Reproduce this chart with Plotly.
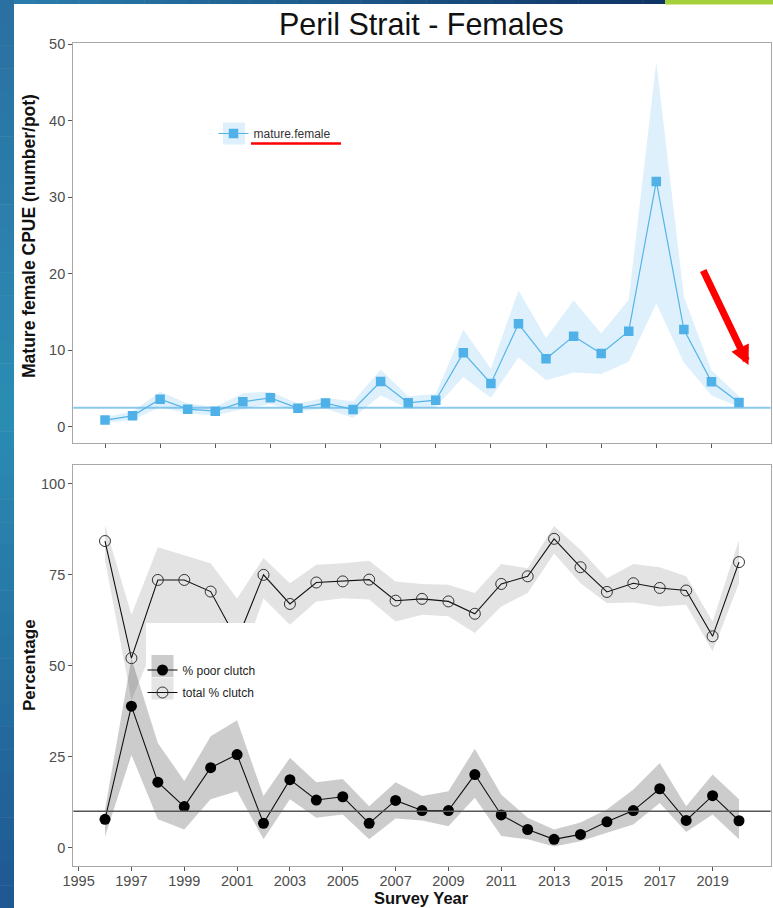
import plotly.graph_objects as go

W, H = 773, 908

# ---------------- data: top panel (mature female CPUE) ----------------
cpue_years = list(range(1997, 2021))
cpue = [0.88, 1.44, 3.62, 2.31, 2.05, 3.27, 3.79, 2.44, 3.10, 2.27, 5.93, 3.14,
        3.48, 9.67, 5.66, 13.46, 8.89, 11.85, 9.59, 12.5, 32.07, 12.72, 5.88, 3.18]
cpue_upper = [1.3, 2.0, 4.6, 3.05, 2.6, 4.4, 4.6, 3.05, 3.8, 3.3, 7.5, 4.0,
              4.3, 12.7, 7.6, 17.8, 11.6, 16.5, 12.2, 16.6, 47.7, 17.0, 7.4, 4.0]
cpue_lower = [0.5, 0.9, 2.6, 1.75, 1.5, 2.3, 3.0, 2.0, 2.4, 1.2, 4.1, 2.4,
              2.6, 6.5, 3.8, 9.1, 6.1, 7.1, 6.9, 8.5, 16.1, 8.4, 4.1, 2.6]
cpue_ref = 2.5
cpue_xticks = list(range(1997, 2020, 2))
cpue_yticks = [0, 10, 20, 30, 40, 50]

# ---------------- data: bottom panel (clutch percentages) ----------------
clutch_years = list(range(1996, 2021))
total_clutch = [84.3, 52.1, 73.6, 73.6, 70.4, 57.0, 75.0, 67.0, 72.9, 73.2, 73.7, 67.9, 68.4,
                67.7, 64.3, 72.5, 74.6, 84.9, 77.1, 70.3, 72.7, 71.4, 70.7, 58.1, 78.5]
total_upper = [88.7, 64.0, 82.6, 80.5, 78.2, 68.5, 79.6, 72.7, 77.8, 78.2, 78.9, 73.2, 72.5,
               72.3, 70.0, 78.0, 76.8, 88.4, 81.9, 74.1, 78.0, 77.1, 74.6, 62.2, 84.6]
total_lower = [79.1, 40.5, 58.0, 61.0, 58.0, 48.0, 68.5, 61.3, 67.7, 68.6, 68.2, 62.2, 64.0,
               63.6, 59.0, 66.3, 70.0, 80.9, 72.7, 67.2, 67.4, 66.3, 66.8, 54.0, 72.7]
poor_clutch = [7.8, 38.9, 18.0, 11.3, 22.0, 25.6, 6.7, 18.7, 13.1, 14.0, 6.7, 13.0, 10.2,
               10.2, 20.1, 9.0, 5.0, 2.3, 3.65, 7.1, 10.2, 16.2, 7.5, 14.3, 7.4]
poor_upper = [10.5, 52.0, 28.8, 18.3, 30.6, 35.0, 14.2, 24.7, 18.0, 18.9, 11.4, 18.0, 14.2,
              15.5, 27.2, 14.6, 8.2, 5.0, 6.9, 10.5, 16.0, 23.3, 11.4, 20.1, 13.3]
poor_lower = [3.0, 25.5, 7.8, 5.0, 13.3, 15.5, 2.3, 13.3, 8.2, 9.1, 2.3, 8.0, 7.5,
              5.9, 13.7, 3.2, 2.3, 0.3, 1.8, 4.1, 6.4, 12.3, 4.3, 9.1, 2.3]
poor_ref = 10
year_ticks = list(range(1995, 2020, 2))
pct_ticks = [0, 25, 50, 75, 100]

FONT = "Liberation Sans, Arial, Helvetica, sans-serif"
BLUE = "#56B4E9"


def px(x):
    return x / W


def py(y):
    return 1 - y / H


fig = go.Figure()

# ---- top panel ----
fig.add_trace(go.Scatter(
    x=cpue_years + cpue_years[::-1], y=cpue_upper + cpue_lower[::-1],
    fill="toself", fillcolor="rgba(86,180,233,0.2)", line=dict(width=0),
    mode="lines", showlegend=False, hoverinfo="skip", xaxis="x", yaxis="y"))
fig.add_trace(go.Scatter(
    x=cpue_years, y=cpue, name="mature.female", mode="lines+markers",
    line=dict(color=BLUE, width=1.2),
    marker=dict(symbol="square", size=9.5, color="#4fb1e7"),
    xaxis="x", yaxis="y", legend="legend"))

# ---- bottom panel ----
fig.add_trace(go.Scatter(
    x=clutch_years + clutch_years[::-1], y=total_upper + total_lower[::-1],
    fill="toself", fillcolor="rgba(0,0,0,0.11)", line=dict(width=0),
    mode="lines", showlegend=False, hoverinfo="skip", xaxis="x2", yaxis="y2"))
fig.add_trace(go.Scatter(
    x=clutch_years + clutch_years[::-1], y=poor_upper + poor_lower[::-1],
    fill="toself", fillcolor="rgba(0,0,0,0.2)", line=dict(width=0),
    mode="lines", showlegend=False, hoverinfo="skip", xaxis="x2", yaxis="y2"))
fig.add_trace(go.Scatter(
    x=clutch_years, y=total_clutch, name="total % clutch", mode="lines+markers",
    line=dict(color="#111111", width=1.1),
    marker=dict(symbol="circle-open", size=11, color="#333333", line=dict(width=1)),
    xaxis="x2", yaxis="y2", legend="legend2", legendgroup="t", legendrank=2))
fig.add_trace(go.Scatter(
    x=clutch_years, y=poor_clutch, name="% poor clutch", mode="lines+markers",
    line=dict(color="#111111", width=1.1),
    marker=dict(symbol="circle", size=11, color="#000000"),
    xaxis="x2", yaxis="y2", legend="legend2", legendgroup="p", legendrank=1))

axis_common = dict(showgrid=False, zeroline=False, showline=True, mirror=True,
                   linecolor="#a8a8a8", linewidth=1.3, ticks="outside", ticklen=4,
                   tickwidth=1, tickcolor="#555555", automargin=False,
                   tickfont=dict(family=FONT, size=14.5, color="#4d4d4d"))

shapes = []


def lerp(c1, c2, t):
    a = [int(c1[i:i + 2], 16) for i in (1, 3, 5)]
    b = [int(c2[i:i + 2], 16) for i in (1, 3, 5)]
    return "#%02x%02x%02x" % tuple(round(a[k] + (b[k] - a[k]) * t) for k in range(3))


# slide decoration: left strip gradient
n = 40
for i in range(n):
    t = i / (n - 1)
    col = lerp("#2a70a1", "#2b8db3", t / 0.45) if t < 0.45 else lerp("#2b8db3", "#1f5893", (t - 0.45) / 0.55)
    shapes.append(dict(type="rect", xref="paper", yref="paper", x0=0, x1=px(14),
                       y0=py(H * (i + 1) / n + 0.5), y1=py(H * i / n),
                       fillcolor=col, line=dict(width=0), layer="above"))
# top band gradient
m = 30
for i in range(m):
    t = i / (m - 1)
    col = lerp("#2a7cab", "#0f3566", t)
    x0 = 14 + (665 - 14) * i / m
    x1 = 14 + (665 - 14) * (i + 1) / m + 0.5
    shapes.append(dict(type="rect", xref="paper", yref="paper", x0=px(x0), x1=px(x1),
                       y0=py(4), y1=1, fillcolor=col, line=dict(width=0), layer="above"))
shapes.append(dict(type="rect", xref="paper", yref="paper", x0=px(665), x1=1,
                   y0=py(4.5), y1=1, fillcolor="#a6cf3c", line=dict(width=0), layer="above"))

# reference lines
shapes.append(dict(type="line", xref="x domain", yref="y", x0=0, x1=1, y0=cpue_ref, y1=cpue_ref,
                   line=dict(color="#8cc9ee", width=2), layer="below"))
shapes.append(dict(type="line", xref="x2 domain", yref="y2", x0=0, x1=1, y0=poor_ref, y1=poor_ref,
                   line=dict(color="#555555", width=1.6), layer="above"))

# bottom legend background + key boxes
shapes.append(dict(type="rect", xref="paper", yref="paper", x0=px(146), x1=px(270),
                   y0=py(705), y1=py(623), fillcolor="white", line=dict(width=0), layer="above"))
shapes.append(dict(type="rect", xref="paper", yref="paper", x0=px(151.5), x1=px(173.5),
                   y0=py(677), y1=py(655), fillcolor="rgba(0,0,0,0.2)", line=dict(width=0), layer="above"))
shapes.append(dict(type="rect", xref="paper", yref="paper", x0=px(151.5), x1=px(173.5),
                   y0=py(699.5), y1=py(677.5), fillcolor="rgba(0,0,0,0.1)", line=dict(width=0), layer="above"))
# top legend key box
shapes.append(dict(type="rect", xref="paper", yref="paper", x0=px(223), x1=px(245),
                   y0=py(144.5), y1=py(122.5), fillcolor="rgba(86,180,233,0.2)", line=dict(width=0), layer="above"))
# red underline
shapes.append(dict(type="line", xref="paper", yref="paper", x0=px(251), x1=px(341),
                   y0=py(143.5), y1=py(143.5), line=dict(color="#ff0000", width=2.5), layer="above"))

annotations = [
    dict(text="Peril Strait - Females", xref="paper", yref="paper", x=px(422), y=py(24),
         xanchor="center", yanchor="middle", showarrow=False,
         font=dict(family=FONT, size=30.5, color="#111111")),
    dict(text="<b>Mature female CPUE (number/pot)</b>", xref="paper", yref="paper",
         x=px(29), y=py(236), textangle=-90, xanchor="center", yanchor="middle",
         showarrow=False, font=dict(family=FONT, size=17.5, color="#111111")),
    dict(text="<b>Percentage</b>", xref="paper", yref="paper",
         x=px(29), y=py(665), textangle=-90, xanchor="center", yanchor="middle",
         showarrow=False, font=dict(family=FONT, size=17, color="#111111")),
    dict(text="<b>Survey Year</b>", xref="paper", yref="paper",
         x=px(422), y=py(898), xanchor="center", yanchor="middle",
         showarrow=False, font=dict(family=FONT, size=16.5, color="#111111")),
    dict(text="", xref="paper", yref="paper", x=px(748.5), y=py(365),
         showarrow=True, ax=-46, ay=-96, arrowcolor="#ff0000", arrowwidth=7,
         arrowhead=2, arrowsize=0.55, standoff=0),
]

fig.update_layout(
    width=W, height=H,
    margin=dict(l=0, r=0, t=0, b=0, pad=0, autoexpand=False),
    paper_bgcolor="white", plot_bgcolor="white",
    font=dict(family=FONT),
    showlegend=True,
    xaxis=dict(domain=[px(73.3), px(770.7)], range=[1995.85, 2021.15], anchor="y",
               tickvals=cpue_xticks, showticklabels=False, **axis_common),
    yaxis=dict(domain=[py(443.3), py(43)], range=[-2.15, 50.15], anchor="x",
               tickvals=cpue_yticks, **axis_common),
    xaxis2=dict(domain=[px(73.3), px(770.7)], range=[1994.8, 2021.2], anchor="y2",
                tickvals=year_ticks, ticktext=[str(v) for v in year_ticks],
                ticklabelstandoff=-2, **axis_common),
    yaxis2=dict(domain=[py(865.5), py(465)], range=[-4.9, 105.2], anchor="x2",
                tickvals=pct_ticks, **axis_common),
    legend=dict(x=px(213.5), y=py(119), xanchor="left", yanchor="top",
                bgcolor="rgba(0,0,0,0)", borderwidth=0,
                font=dict(family=FONT, size=12, color="#333333")),
    legend2=dict(x=px(142.5), y=py(655.5), xanchor="left", yanchor="top",
                 bgcolor="rgba(0,0,0,0)", borderwidth=0, traceorder="grouped",
                 tracegroupgap=3.5,
                 font=dict(family=FONT, size=12, color="#222222")),
    shapes=shapes,
    annotations=annotations,
)

fig.write_html(
    "out.html",
    config={"displayModeBar": False},
    post_script=(
        "document.documentElement.style.margin='0';"
        "document.body.style.margin='0';document.body.style.padding='0';"
        "document.documentElement.style.overflow='hidden';"
        "document.body.style.overflow='hidden';"
        "var g=document.querySelector('.plotly-graph-div');"
        "g.style.position='fixed';g.style.left='0px';g.style.top='0px';"
    ),
)
